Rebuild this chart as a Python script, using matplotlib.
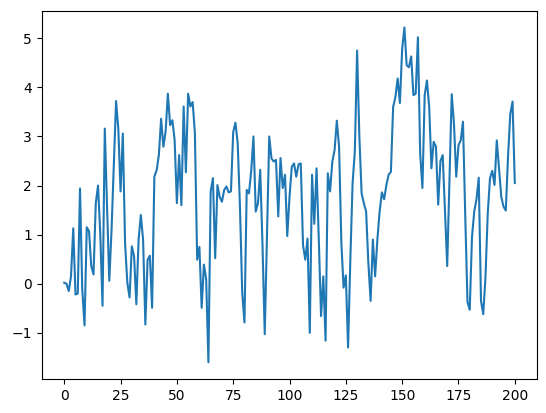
import matplotlib
matplotlib.use('Agg')

import numpy as np
import matplotlib.pyplot as plt

# Series values (index 0..200)
values = [
    0.02, 0.0, -0.15, 0.15, 1.13, -0.22, -0.2, 1.94, -0.12, -0.85,
    1.15, 1.07, 0.36, 0.19, 1.64, 2.0, 1.0, -0.45, 3.16, 1.57,
    0.06, 1.1, 2.4, 3.72, 3.16, 1.88, 3.06, 0.83, 0.02, -0.28,
    0.76, 0.56, -0.42, 0.9, 1.4, 0.9, -0.83, 0.49, 0.57, -0.49,
    2.18, 2.31, 2.62, 3.36, 2.79, 3.1, 3.87, 3.23, 3.33, 2.93,
    1.64, 2.62, 1.6, 3.61, 2.27, 3.87, 3.61, 3.7, 3.06, 0.49,
    0.75, -0.49, 0.39, 0.09, -1.6, 1.88, 2.15, 0.52, 2.01, 1.77,
    1.67, 1.91, 1.98, 1.86, 1.88, 3.09, 3.28, 2.86, 1.57, -0.18,
    -0.79, 1.91, 1.84, 2.3, 3.0, 1.47, 1.64, 2.32, 0.8, -1.03,
    1.0, 3.0, 2.55, 2.49, 2.52, 1.37, 2.56, 1.95, 2.22, 0.97,
    1.77, 2.38, 2.45, 2.18, 2.43, 2.45, 0.78, 0.49, 0.92, -1.0,
    2.22, 1.22, 2.35, 0.9, -0.66, 0.15, -1.16, 2.25, 1.88, 2.49,
    2.72, 3.32, 2.79, 0.85, -0.08, 0.17, -1.3, 0.5, 2.05, 2.7,
    4.75, 3.0, 1.84, 1.64, 1.47, 0.42, -0.35, 0.9, 0.15, 0.9,
    1.47, 1.86, 1.72, 2.01, 2.22, 2.28, 3.6, 3.8, 4.18, 3.68,
    4.78, 5.22, 4.45, 4.41, 4.63, 3.84, 3.87, 5.02, 2.65, 1.95,
    3.84, 4.14, 3.6, 2.35, 2.89, 2.79, 1.61, 2.5, 2.62, 1.5,
    0.36, 2.1, 3.86, 3.26, 2.18, 2.82, 2.92, 3.3, 1.4, -0.37,
    -0.53, 0.95, 1.47, 1.72, 2.16, -0.35, -0.62, 0.15, 1.44, 2.15,
    2.3, 2.01, 2.92, 2.35, 1.77, 1.57, 1.49, 2.59, 3.46, 3.71,
    2.05,
]
steps = np.arange(len(values))

fig = plt.figure(figsize=(5.46, 4.13), dpi=100)
ax = fig.add_axes([0.0764, 0.0823, 0.9077, 0.8918])
ax.plot(steps, values, color='#1f77b4', linewidth=1.5)

fig.savefig('out.png', dpi=100)
